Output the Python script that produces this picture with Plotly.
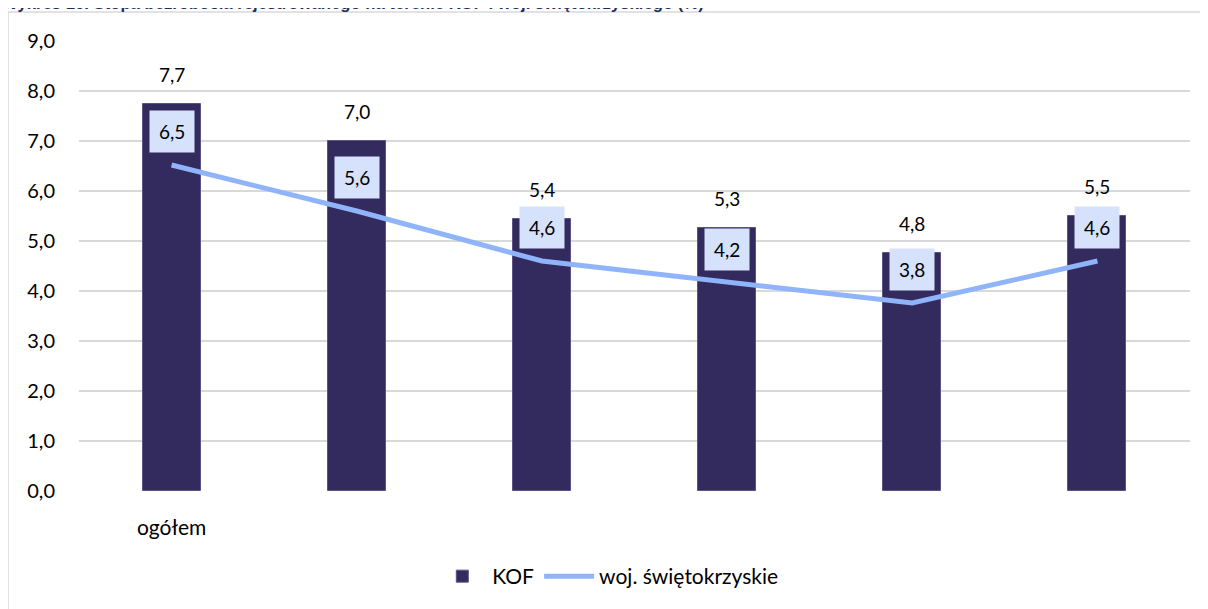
import plotly.graph_objects as go

# data
categories = ["ogółem", "", "", "", "", ""]
kof = [7.74, 7.0, 5.44, 5.27, 4.77, 5.51]
swietokrzyskie = [6.52, 5.6, 4.6, 4.17, 3.76, 4.6]
title = "Wykres 10. Stopa bezrobocia rejestrowanego na terenie KOF i woj. świętokrzyskiego (%)"

x = list(range(len(categories)))
fnt = "Lato, 'Open Sans', sans-serif"

fig = go.Figure()
fig.add_trace(go.Bar(x=x, y=kof, name="KOF", width=0.313,
                     marker=dict(color="#332A5E", line=dict(color="#5B5387", width=1))))
fig.add_trace(go.Scatter(x=x, y=swietokrzyskie, name="woj. świętokrzyskie", mode="lines",
                         line=dict(color="#8FB4FA", width=5)))

# value labels
for xi, v in zip(x, kof):
    fig.add_annotation(x=xi, y=v, text=f"{v:.1f}".replace(".", ","), showarrow=False,
                       yanchor="bottom", yshift=16, font=dict(size=19, color="#000000"))
for xi, v in zip(x, swietokrzyskie):
    fig.add_annotation(x=xi, y=v, text=f"{v:.1f}".replace(".", ","), showarrow=False,
                       yanchor="bottom", yshift=12, bgcolor="#D6E2FB", borderpad=9,
                       font=dict(size=19, color="#000000"))

# title (cut by the top edge, as in the source)
fig.add_annotation(xref="paper", yref="paper", x=-0.0711, y=1.0844, xanchor="left", yanchor="middle",
                   text=f"<b>{title}</b>", showarrow=False,
                   font=dict(family="Liberation Sans, Arial", size=16.7, color="#1F2D5C"))

# chart-area border
fig.add_shape(type="rect", xref="paper", yref="paper", x0=-0.0639, x1=1.05, y0=-0.4, y1=1.0644,
              line=dict(color="#D9D9D9", width=1.5), layer="below")

# page body adds 8px on top/left, so the figure is 8px smaller
fig.update_layout(
    width=1200, height=601,
    margin=dict(l=71, r=18, t=33, b=118),
    paper_bgcolor="white", plot_bgcolor="white",
    separators=", ",
    font=dict(family=fnt, size=19, color="#000000"),
    bargap=0,
    showlegend=True,
    legend=dict(orientation="h", x=0.318, y=-0.19, xanchor="left", yanchor="middle",
                font=dict(size=21), itemwidth=50, traceorder="normal"),
)
fig.update_xaxes(tickmode="array", tickvals=x, ticktext=categories, range=[-0.5, 5.5],
                 showgrid=False, zeroline=False, showline=False, ticks="", ticklabelstandoff=22,
                 tickfont=dict(size=21))
fig.update_yaxes(range=[0, 9], dtick=1, tickformat=".1f", showgrid=True, gridcolor="#D9D9D9",
                 gridwidth=1.5, zeroline=False, showline=False, ticks="", ticklabelstandoff=23,
                 tickfont=dict(size=20))

fig.write_html("out.html")
